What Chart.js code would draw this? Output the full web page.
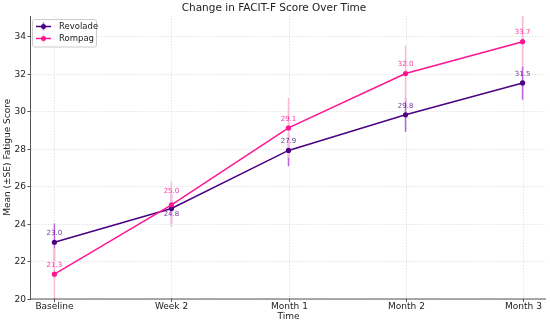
<!DOCTYPE html>
<html>
<head>
<meta charset="utf-8">
<script src="https://cdn.jsdelivr.net/npm/chart.js@4/dist/chart.umd.min.js"></script>
<style>
html,body{margin:0;padding:0;background:#fff;}
#wrap{width:550px;height:324px;position:relative;}
</style>
</head>
<body>
<div id="wrap"><canvas id="c" width="550" height="324"></canvas></div>
<script>
const categories = ["Baseline", "Week 2", "Month 1", "Month 2", "Month 3"];
const revoladeMean = [23.0, 24.8, 27.9, 29.8, 31.5];
const revoladeSE   = [1.0, 0.8, 0.85, 0.9, 0.9];
const rompagMean   = [21.3, 25.0, 29.1, 32.0, 33.7];
const rompagSE     = [1.4, 1.2, 1.6, 1.5, 1.35];
const yTicks = [20, 22, 24, 26, 28, 30, 32, 34];
const titleText = "Change in FACIT-F Score Over Time";
const xTitle = "Time";
const yTitle = "Mean (\u00B1SE) Fatigue Score";

const FONT = '"DejaVu Sans", sans-serif';
const REV = '#4B0082', ROM = '#FF1493';
const series = [
  {name: 'Revolade', mean: revoladeMean, se: revoladeSE, color: REV, err: 'rgb(185,100,222)', lab: 'rgba(75,0,130,0.8)'},
  {name: 'Rompag', mean: rompagMean, se: rompagSE, color: ROM, err: 'rgb(252,186,218)', lab: 'rgba(255,20,147,0.85)'}
];

const deco = {
  id: 'deco',
  beforeDatasetsDraw(chart) {
    const {ctx, chartArea: a, scales: {x, y}} = chart;
    ctx.save();
    // grid
    ctx.strokeStyle = 'rgba(190,190,190,0.6)';
    ctx.lineWidth = 0.8;
    ctx.setLineDash([1.2, 1.6]);
    categories.forEach((c, i) => {
      const px = Math.round(x.getPixelForValue(i)) + 0.5;
      ctx.beginPath(); ctx.moveTo(px, a.top); ctx.lineTo(px, a.bottom); ctx.stroke();
    });
    yTicks.forEach(t => {
      const py = Math.round(y.getPixelForValue(t)) + 0.5;
      ctx.beginPath(); ctx.moveTo(a.left, py); ctx.lineTo(a.right, py); ctx.stroke();
    });
    ctx.setLineDash([]);
    // error bars
    ctx.beginPath(); ctx.rect(a.left, a.top, a.right - a.left, a.bottom - a.top); ctx.clip();
    ctx.lineWidth = 1.5;
    series.forEach(s => {
      ctx.strokeStyle = s.err;
      s.mean.forEach((m, i) => {
        const px = x.getPixelForValue(i);
        ctx.beginPath();
        ctx.moveTo(px, y.getPixelForValue(m - s.se[i]));
        ctx.lineTo(px, y.getPixelForValue(m + s.se[i]));
        ctx.stroke();
      });
    });
    ctx.restore();
  },
  afterDraw(chart) {
    const {ctx, chartArea: a, scales: {x, y}} = chart;
    ctx.save();
    // spines
    ctx.strokeStyle = '#555';
    ctx.lineWidth = 1;
    ctx.beginPath();
    ctx.moveTo(a.left - 0.5, a.top); ctx.lineTo(a.left - 0.5, a.bottom + 0.5); ctx.lineTo(a.right, a.bottom + 0.5);
    ctx.stroke();
    // ticks
    ctx.fillStyle = '#222';
    ctx.font = '9px ' + FONT;
    ctx.textAlign = 'right'; ctx.textBaseline = 'middle';
    yTicks.forEach(t => {
      const py = Math.round(y.getPixelForValue(t)) + 0.5;
      ctx.beginPath(); ctx.moveTo(a.left - 3.5, py); ctx.lineTo(a.left, py); ctx.stroke();
      ctx.fillText(String(t), a.left - 5, py);
    });
    ctx.textAlign = 'center'; ctx.textBaseline = 'top';
    categories.forEach((c, i) => {
      const px = Math.round(x.getPixelForValue(i)) + 0.5;
      ctx.beginPath(); ctx.moveTo(px, a.bottom); ctx.lineTo(px, a.bottom + 3.5); ctx.stroke();
      ctx.fillText(c, px, a.bottom + 4);
    });
    // axis titles
    ctx.font = '9px ' + FONT;
    ctx.textBaseline = 'middle';
    ctx.fillText(xTitle, (a.left + a.right) / 2, 317);
    ctx.save();
    ctx.translate(8, (a.top + a.bottom) / 2);
    ctx.rotate(-Math.PI / 2);
    ctx.fillText(yTitle, 0, 0);
    ctx.restore();
    // title
    ctx.font = '10.5px ' + FONT;
    ctx.fillText(titleText, 274, 8);
    // data labels
    ctx.font = '7px ' + FONT;
    series.forEach((s, si) => {
      ctx.fillStyle = s.lab;
      s.mean.forEach((m, i) => {
        const px = x.getPixelForValue(i);
        const py = y.getPixelForValue(m);
        let dy = -9;
        if (si === 0 && i === 1) dy = 6;
        if (si === 1 && i === 1) dy = -14;
        ctx.fillText(m.toFixed(1), px, py + dy);
      });
    });
    // legend
    ctx.fillStyle = 'rgba(255,255,255,0.85)';
    ctx.strokeStyle = '#ccc';
    ctx.lineWidth = 1;
    ctx.beginPath();
    if (ctx.roundRect) ctx.roundRect(32.5, 19.5, 64, 27.5, 2); else ctx.rect(32.5, 19.5, 64, 27.5);
    ctx.fill(); ctx.stroke();
    ctx.font = '8.5px ' + FONT;
    ctx.textAlign = 'left';
    series.forEach((s, si) => {
      const ly = 26.5 + si * 12;
      ctx.strokeStyle = s.color; ctx.lineWidth = 1.5;
      ctx.beginPath(); ctx.moveTo(36, ly); ctx.lineTo(51, ly); ctx.stroke();
      ctx.strokeStyle = s.err;
      ctx.beginPath(); ctx.moveTo(43.5, ly - 4); ctx.lineTo(43.5, ly + 4); ctx.stroke();
      ctx.fillStyle = s.color;
      ctx.beginPath(); ctx.arc(43.5, ly, 2.5, 0, Math.PI * 2); ctx.fill();
      ctx.fillStyle = '#222';
      ctx.fillText(s.name, 59, ly);
    });
    ctx.restore();
  }
};

new Chart(document.getElementById('c'), {
  type: 'line',
  data: {
    datasets: series.map((s, si) => ({
      label: s.name,
      data: s.mean.map((v, i) => ({x: i, y: v})),
      borderColor: s.color,
      backgroundColor: s.color,
      borderWidth: 1.5,
      pointRadius: 2.6,
      pointHoverRadius: 2.6,
      pointBorderWidth: 0,
      tension: 0,
      order: si === 0 ? 1 : 0,
      clip: false
    }))
  },
  options: {
    responsive: false,
    animation: false,
    events: [],
    layout: {padding: {left: 31, right: 4, top: 16, bottom: 25.5}},
    plugins: {legend: {display: false}, title: {display: false}, tooltip: {enabled: false}},
    scales: {
      x: {type: 'linear', display: false, min: -0.2, max: 4.2},
      y: {type: 'linear', display: false, min: 20, max: 35.07}
    }
  },
  plugins: [deco]
});
</script>
</body>
</html>
